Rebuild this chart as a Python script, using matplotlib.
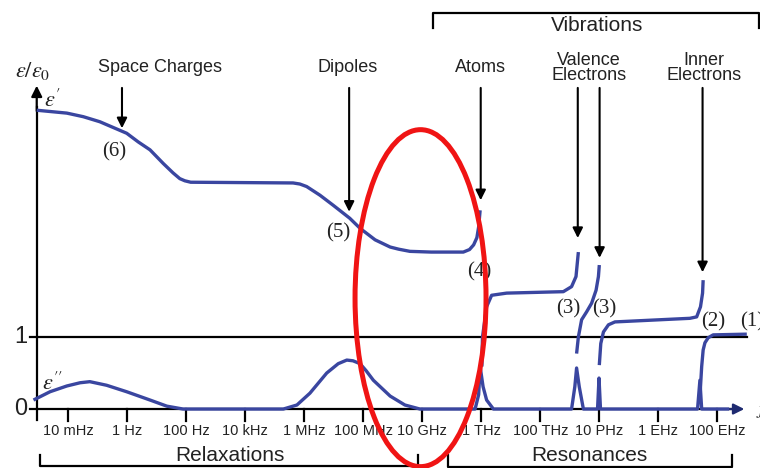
import matplotlib
matplotlib.use("Agg")
import matplotlib.pyplot as plt
from matplotlib.patches import Ellipse

plt.rcParams['mathtext.fontset'] = 'stix'

# --- values: x = log10(frequency / Hz), y = eps / eps0 ---
tick_logf = [-2, 0, 2, 4, 6, 8, 10, 12, 14, 16, 18, 20]
tick_labels = ['10 mHz', '1 Hz', '100 Hz', '10 kHz', '1 MHz', '100 MHz',
               '10 GHz', '1 THz', '100 THz', '10 PHz', '1 EHz', '100 EHz']

# eps' : relaxation part (space charges + dipoles) up to the atomic resonance
real_relax_f = [-3.07, -2.05, -1.49, -0.93, -0.02, 0.37, 0.77, 1.22, 1.55, 1.78, 1.95, 2.15,
                5.62, 5.85, 6.08, 6.53, 6.98, 7.54, 7.89, 8.40, 8.91, 9.20, 9.58, 10.30,
                11.39, 11.60, 11.74, 11.85, 11.91, 11.96]
real_relax = [4.15, 4.11, 4.06, 3.99, 3.83, 3.71, 3.60, 3.41, 3.28, 3.20, 3.17, 3.15,
              3.14, 3.125, 3.09, 2.97, 2.83, 2.65, 2.51, 2.35, 2.25, 2.22, 2.19, 2.18,
              2.18, 2.215, 2.28, 2.38, 2.53, 2.76]
# eps' : between the resonances
real_atom_f = [12.02, 12.04, 12.18, 12.35, 12.86, 14.78, 15.06, 15.21, 15.29]
real_atom = [0.59, 1.00, 1.42, 1.58, 1.61, 1.63, 1.70, 1.84, 2.18]
real_val1_f = [15.23, 15.29, 15.40, 15.57, 15.74, 15.89, 15.97, 16.00]
real_val1 = [0.77, 1.00, 1.24, 1.35, 1.47, 1.65, 1.84, 2.00]
real_val2_f = [16.00, 16.05, 16.14, 16.31, 16.53, 19.07, 19.30, 19.43, 19.50, 19.52]
real_val2 = [0.61, 0.91, 1.07, 1.17, 1.21, 1.26, 1.28, 1.42, 1.61, 1.79]
real_inner_f = [19.41, 19.47, 19.52, 19.58, 19.69, 19.86, 21.00]
real_inner = [0.17, 0.59, 0.82, 0.92, 0.99, 1.03, 1.04]

# eps'' : losses
imag_f = [-3.18, -2.62, -2.05, -1.60, -1.27, -0.70, -0.02, 0.77, 1.34, 1.89,
          5.29, 5.75, 6.19, 6.76, 7.15, 7.44, 7.65, 7.89, 8.10, 8.34, 8.91, 9.41, 9.92,
          11.79, 11.91, 11.96, 12.06, 12.18, 12.41,
          15.06, 15.17, 15.23, 15.32, 15.46,
          15.94, 15.99, 16.04,
          19.33, 19.41, 19.47, 20.40]
imag = [0.125, 0.24, 0.32, 0.365, 0.38, 0.33, 0.24, 0.125, 0.04, 0.0,
        0.0, 0.056, 0.22, 0.50, 0.63, 0.68, 0.67, 0.63, 0.53, 0.40, 0.18, 0.056, 0.0,
        0.0, 0.20, 0.59, 0.31, 0.125, 0.0,
        0.0, 0.31, 0.57, 0.31, 0.0,
        0.0, 0.43, 0.0,
        0.0, 0.40, 0.0, 0.0]

# mechanisms: label, label position, arrow x, arrow tip
mech_labels = ['Space Charges', 'Dipoles', 'Atoms', 'Valence\nElectrons', 'Inner\nElectrons']
mech_label_x = [1.11, 7.48, 11.96, 15.65, 19.55]
arrow_x = [-0.18, 7.52, 11.98, 15.27, 16.01, 19.50]
arrow_tip = [3.90, 2.74, 2.90, 2.375, 2.10, 1.90]

num_labels = ['(6)', '(5)', '(4)', '(3)', '(3)', '(2)', '(1)']
num_x = [-0.45, 7.14, 11.92, 14.94, 16.16, 19.85, 21.18]
num_y = [3.57, 2.44, 1.90, 1.39, 1.39, 1.21, 1.21]

blue = '#3a46a0'
txt = '#222222'
sans = ['Liberation Sans', 'DejaVu Sans']
serif = ['Liberation Serif', 'DejaVu Serif']

fig = plt.figure(figsize=(7.6, 4.68), dpi=100)
ax = fig.add_axes([0, 0, 1, 1])
ax.set_xlim(-4.315, 21.447)
ax.set_ylim(-0.819, 5.681)
ax.axis('off')

# axes drawn by hand, like the sketch
ax.plot([-3.30, 20.6], [0, 0], color='k', lw=1.6, zorder=2)
ax.annotate('', xy=(21.01, 0), xytext=(20.3, 0),
            arrowprops=dict(arrowstyle='-|>', color='#1e2a70', lw=1.6, mutation_scale=16))
ax.plot([-3.07, -3.07], [-0.15, 4.2], color='k', lw=1.6, zorder=2)
ax.annotate('', xy=(-3.07, 4.53), xytext=(-3.07, 4.1),
            arrowprops=dict(arrowstyle='-|>', color='k', lw=1.6, mutation_scale=16))
ax.plot([-3.30, 21.0], [1, 1], color='k', lw=1.6, zorder=2)
for t in tick_logf:
    ax.plot([t, t], [0, -0.16], color='k', lw=1.6)
for t, lab in zip(tick_logf, tick_labels):
    ax.text(t, -0.31, lab, ha='center', va='center', fontsize=10.5,
            family=sans, color=txt)
ax.text(-3.40, 1, '1', ha='right', va='center', fontsize=17, family=sans, color=txt)
ax.text(-3.40, 0, '0', ha='right', va='center', fontsize=17, family=sans, color=txt)
ax.text(21.30, -0.02, r'$f$', ha='left', va='center', fontsize=13, color=txt)

# curves
line_kw = dict(color=blue, lw=2.4, zorder=3, solid_capstyle='butt', solid_joinstyle='round')
ax.plot(imag_f, imag, **line_kw)
for fx, fy in [(real_relax_f, real_relax), (real_atom_f, real_atom),
               (real_val1_f, real_val1), (real_val2_f, real_val2),
               (real_inner_f, real_inner)]:
    ax.plot(fx, fy, **line_kw)

ax.text(-3.20, 4.69, r'$\varepsilon/\varepsilon_0$', ha='center', va='center',
        fontsize=16, color=txt)
ax.text(-2.55, 4.30, r'$\varepsilon^{\prime}$', ha='center', va='center',
        fontsize=16, color=txt)
ax.text(-2.55, 0.36, r'$\varepsilon^{\prime\prime}$', ha='center', va='center',
        fontsize=16, color=txt)

for lab, x, y in zip(num_labels, num_x, num_y):
    ax.text(x, y, lab, ha='center', va='center', fontsize=15, family=serif, color=txt)

for lab, x in zip(mech_labels, mech_label_x):
    ax.text(x, 4.74, lab, ha='center', va='center', fontsize=13, family=sans,
            color=txt, linespacing=0.85)
for x, tip in zip(arrow_x, arrow_tip):
    ax.annotate('', xy=(x, tip), xytext=(x, 4.46),
                arrowprops=dict(arrowstyle='-|>', color='k', lw=1.5, mutation_scale=15,
                                shrinkA=0, shrinkB=0))

# brackets
ax.plot([10.36, 10.36, 21.41, 21.41], [5.29, 5.50, 5.50, 5.29], color='k', lw=1.6)
ax.text(15.92, 5.33, 'Vibrations', ha='center', va='center', fontsize=15,
        family=sans, color=txt)
ax.plot([-2.96, -2.96, 9.85, 9.85], [-0.64, -0.79, -0.79, -0.64], color='k', lw=1.6)
ax.text(3.48, -0.65, 'Relaxations', ha='center', va='center', fontsize=15,
        family=sans, color=txt)
ax.plot([10.87, 10.87, 20.50, 20.50], [-0.64, -0.80, -0.80, -0.64], color='k', lw=1.6)
ax.text(15.68, -0.65, 'Resonances', ha='center', va='center', fontsize=15,
        family=sans, color=txt)

# red highlight around the microwave gap
ax.add_patch(Ellipse((9.94, 1.54), 4.44, 4.68, fill=False, edgecolor='#f01414',
                     lw=3.6, zorder=5))

fig.savefig('out.png', dpi=100)
